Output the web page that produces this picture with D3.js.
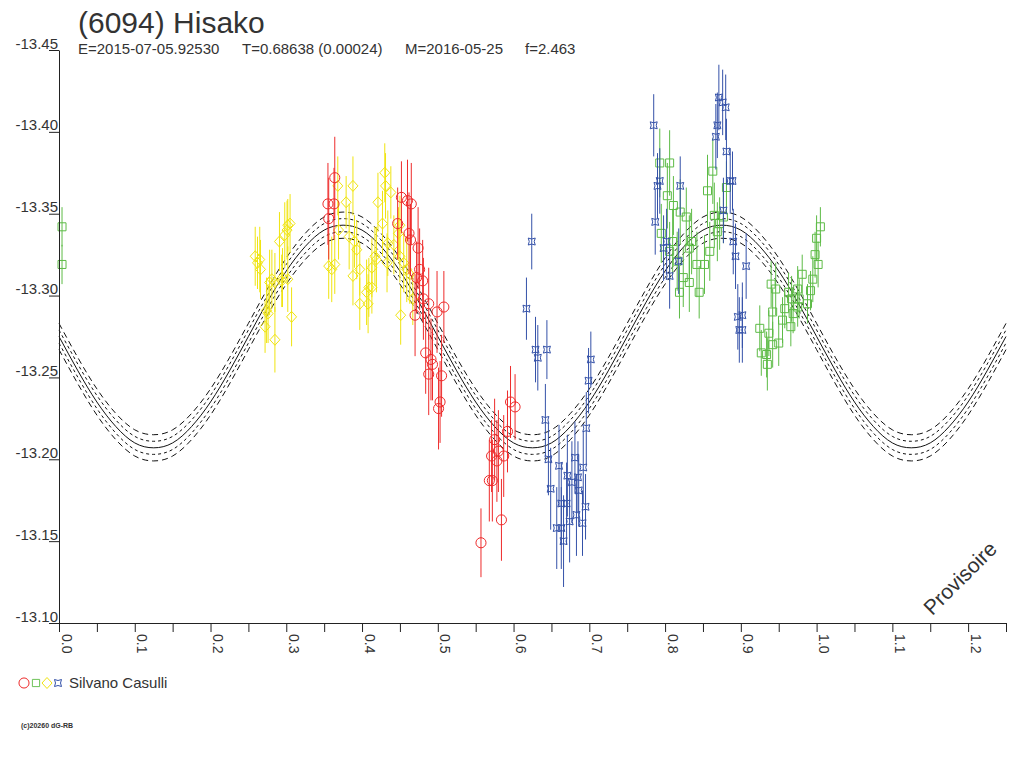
<!DOCTYPE html>
<html>
<head>
<meta charset="utf-8">
<script src="https://cdn.jsdelivr.net/npm/d3@7"></script>
<style>
  body { margin: 0; background: #fff; }
  text { font-family: "Liberation Sans", Arial, sans-serif; fill: #333; }
</style>
</head>
<body>
<div id="chart"></div>
<script>
// Lightcurve of (6094) Hisako, folded on the rotation period

const titleText = "(6094) Hisako";
const subtitleParts = ["E=2015-07-05.92530", "T=0.68638 (0.00024)", "M=2016-05-25", "f=2.463"];
const observer = "Silvano Casulli";

const phaseTicks = [0, 0.05, 0.1, 0.15, 0.2, 0.25, 0.3, 0.35, 0.4, 0.45, 0.5, 0.55, 0.6,
  0.65, 0.7, 0.75, 0.8, 0.85, 0.9, 0.95, 1.0, 1.05, 1.1, 1.15, 1.2, 1.25];
const magTicks = [-13.45, -13.40, -13.35, -13.30, -13.25, -13.20, -13.15, -13.10];

// model curve
const modelPhase = [0, 0.025, 0.05, 0.075, 0.1, 0.125, 0.15, 0.175, 0.2, 0.225,
  0.25, 0.275, 0.3, 0.325, 0.35, 0.375, 0.4, 0.425, 0.45, 0.475,
  0.5, 0.525, 0.55, 0.575, 0.6, 0.625, 0.65, 0.675, 0.7, 0.725,
  0.75, 0.775, 0.8, 0.825, 0.85, 0.875, 0.9, 0.925, 0.95, 0.975,
  1.0, 1.025, 1.05, 1.075, 1.1, 1.125, 1.15, 1.175, 1.2, 1.225, 1.25];
const modelMag = [-13.275, -13.254, -13.235, -13.220, -13.210, -13.207, -13.210, -13.220, -13.235, -13.254,
  -13.275, -13.296, -13.315, -13.330, -13.340, -13.343, -13.340, -13.330, -13.315, -13.296,
  -13.275, -13.254, -13.235, -13.220, -13.210, -13.207, -13.210, -13.220, -13.235, -13.254,
  -13.275, -13.296, -13.315, -13.330, -13.340, -13.343, -13.340, -13.330, -13.315, -13.296,
  -13.275, -13.254, -13.235, -13.220, -13.210, -13.207, -13.210, -13.220, -13.235, -13.254, -13.275];
const innerBand = [-0.004, 0.004];
const outerBand = [-0.008, 0.008];

// observations: [phase, mag, error]
const redObs = [
  [0.364, -13.372, 0.025], [0.355, -13.356, 0.025], [0.363, -13.356, 0.022], [0.356, -13.347, 0.025],
  [0.452, -13.360, 0.022], [0.460, -13.358, 0.025], [0.465, -13.356, 0.025], [0.447, -13.344, 0.022],
  [0.462, -13.338, 0.025], [0.464, -13.334, 0.022], [0.474, -13.329, 0.025], [0.476, -13.316, 0.025],
  [0.472, -13.311, 0.022], [0.480, -13.309, 0.025], [0.481, -13.298, 0.025], [0.488, -13.295, 0.022],
  [0.499, -13.290, 0.025], [0.508, -13.293, 0.022], [0.470, -13.288, 0.025], [0.484, -13.265, 0.025],
  [0.491, -13.261, 0.025], [0.493, -13.258, 0.022], [0.488, -13.252, 0.025], [0.505, -13.251, 0.025],
  [0.503, -13.235, 0.025], [0.501, -13.231, 0.025], [0.596, -13.235, 0.022], [0.602, -13.232, 0.020],
  [0.592, -13.217, 0.025], [0.575, -13.212, 0.025], [0.580, -13.205, 0.025], [0.571, -13.202, 0.022],
  [0.587, -13.202, 0.025], [0.578, -13.199, 0.025], [0.568, -13.187, 0.025], [0.572, -13.187, 0.025],
  [0.584, -13.163, 0.025], [0.557, -13.149, 0.021]
];
const greenObs = [
  [0.004, -13.342, 0.012], [0.004, -13.319, 0.012],
  [0.793, -13.381, 0.021], [0.806, -13.381, 0.020], [0.803, -13.361, 0.020], [0.811, -13.355, 0.018],
  [0.820, -13.351, 0.020], [0.828, -13.348, 0.018], [0.795, -13.338, 0.018], [0.863, -13.376, 0.020],
  [0.856, -13.364, 0.022], [0.810, -13.333, 0.020], [0.806, -13.327, 0.018], [0.835, -13.333, 0.020],
  [0.832, -13.329, 0.020], [0.859, -13.327, 0.018], [0.842, -13.319, 0.020], [0.852, -13.319, 0.018],
  [0.869, -13.339, 0.018], [0.872, -13.344, 0.016], [0.865, -13.349, 0.020], [0.881, -13.366, 0.016],
  [0.816, -13.321, 0.018], [0.824, -13.311, 0.018], [0.832, -13.308, 0.018], [0.819, -13.302, 0.016],
  [0.845, -13.302, 0.016], [0.877, -13.348, 0.016],
  [1.005, -13.342, 0.012], [1.000, -13.335, 0.014], [0.998, -13.325, 0.014], [1.002, -13.319, 0.014],
  [0.995, -13.310, 0.014], [0.981, -13.313, 0.012], [0.940, -13.307, 0.014], [0.946, -13.304, 0.016],
  [0.975, -13.304, 0.014], [0.992, -13.303, 0.012], [0.963, -13.302, 0.012], [0.967, -13.298, 0.014],
  [0.977, -13.298, 0.012], [0.988, -13.295, 0.012], [0.975, -13.293, 0.012], [0.942, -13.290, 0.014],
  [0.958, -13.292, 0.012], [0.969, -13.289, 0.012], [0.955, -13.285, 0.014], [0.925, -13.280, 0.014],
  [0.966, -13.281, 0.012], [0.937, -13.277, 0.014], [0.950, -13.271, 0.014], [0.942, -13.270, 0.014],
  [0.927, -13.265, 0.014], [0.934, -13.264, 0.014], [0.935, -13.258, 0.016]
];
const yellowObs = [
  [0.259, -13.324, 0.018], [0.265, -13.322, 0.020], [0.262, -13.320, 0.016], [0.266, -13.316, 0.018],
  [0.302, -13.343, 0.016], [0.301, -13.340, 0.018], [0.298, -13.337, 0.020], [0.291, -13.333, 0.018],
  [0.281, -13.310, 0.018], [0.278, -13.308, 0.020], [0.285, -13.308, 0.018], [0.294, -13.309, 0.016],
  [0.295, -13.311, 0.018], [0.302, -13.310, 0.020], [0.307, -13.287, 0.018], [0.274, -13.291, 0.020],
  [0.276, -13.289, 0.018], [0.272, -13.281, 0.016], [0.285, -13.273, 0.020], [0.388, -13.367, 0.018],
  [0.379, -13.357, 0.016], [0.368, -13.367, 0.018], [0.430, -13.375, 0.018], [0.431, -13.367, 0.020],
  [0.438, -13.363, 0.016], [0.421, -13.357, 0.018], [0.427, -13.344, 0.020], [0.450, -13.343, 0.018],
  [0.448, -13.338, 0.016], [0.369, -13.340, 0.018], [0.383, -13.336, 0.020], [0.393, -13.328, 0.018],
  [0.390, -13.333, 0.016], [0.356, -13.318, 0.020], [0.364, -13.319, 0.018], [0.360, -13.316, 0.020],
  [0.388, -13.312, 0.018], [0.397, -13.316, 0.016], [0.413, -13.317, 0.018], [0.419, -13.322, 0.020],
  [0.417, -13.324, 0.018], [0.409, -13.305, 0.018], [0.413, -13.305, 0.016], [0.406, -13.302, 0.020],
  [0.408, -13.295, 0.018], [0.397, -13.295, 0.016], [0.433, -13.320, 0.018], [0.434, -13.332, 0.020],
  [0.442, -13.331, 0.018], [0.450, -13.324, 0.016], [0.455, -13.320, 0.018], [0.459, -13.316, 0.020],
  [0.463, -13.313, 0.018], [0.451, -13.288, 0.018], [0.467, -13.298, 0.016], [0.305, -13.344, 0.018]
];
const blueObs = [
  [0.785, -13.404, 0.019], [0.871, -13.421, 0.020], [0.876, -13.418, 0.020], [0.880, -13.415, 0.020],
  [0.869, -13.404, 0.020], [0.867, -13.397, 0.020], [0.881, -13.388, 0.020], [0.793, -13.370, 0.020],
  [0.790, -13.367, 0.020], [0.820, -13.367, 0.018], [0.886, -13.370, 0.020], [0.889, -13.370, 0.018],
  [0.787, -13.345, 0.020], [0.877, -13.352, 0.020], [0.802, -13.333, 0.020], [0.798, -13.329, 0.020],
  [0.890, -13.333, 0.020], [0.893, -13.324, 0.020], [0.818, -13.321, 0.020], [0.907, -13.318, 0.020],
  [0.806, -13.312, 0.020], [0.896, -13.287, 0.020], [0.902, -13.288, 0.020], [0.898, -13.279, 0.020],
  [0.902, -13.279, 0.020],
  [0.624, -13.333, 0.017], [0.617, -13.292, 0.019], [0.629, -13.267, 0.020], [0.644, -13.267, 0.018],
  [0.632, -13.262, 0.020], [0.702, -13.261, 0.017], [0.699, -13.248, 0.020],
  [0.642, -13.224, 0.022], [0.696, -13.219, 0.022], [0.646, -13.200, 0.022], [0.660, -13.196, 0.025],
  [0.649, -13.182, 0.025], [0.692, -13.195, 0.022], [0.681, -13.201, 0.022], [0.671, -13.190, 0.025],
  [0.685, -13.189, 0.022], [0.677, -13.186, 0.025], [0.686, -13.181, 0.022], [0.663, -13.173, 0.025],
  [0.670, -13.173, 0.025], [0.695, -13.171, 0.020], [0.683, -13.166, 0.025], [0.674, -13.162, 0.025],
  [0.691, -13.161, 0.020], [0.657, -13.158, 0.025], [0.663, -13.158, 0.025], [0.666, -13.150, 0.028]
];

const colors = { red: "#ee2b2b", green: "#5dbb46", yellow: "#f0e410", blue: "#3451a8" };

const width = 1024, height = 768;
const svg = d3.select("#chart").append("svg")
  .attr("width", width).attr("height", height);

// scales
const x = d3.scaleLinear().domain([0, 1.25]).range([59, 1006]);
const y = d3.scaleLinear().domain([-13.10, -13.45]).range([623, 50]);

// symbol paths
const sym = {
  circle: () => d3.symbol(d3.symbolCircle, 80)(),
  square: () => "M-4,-4H4V4H-4Z",
  diamond: () => "M0,-5.5L5,0L0,5.5L-5,0Z",
  star: () => "M-3.5,-3.5Q0,-1.5 3.5,-3.5Q1.5,0 3.5,3.5Q0,1.5 -3.5,3.5Q-1.5,0 -3.5,-3.5Z"
};

// titles
svg.append("text").attr("x", 78).attr("y", 33)
  .attr("font-size", 30).text(titleText);
const subX = [78, 242, 405, 525];
svg.selectAll(".sub").data(subtitleParts).join("text")
  .attr("class", "sub")
  .attr("x", (d, i) => subX[i]).attr("y", 54)
  .attr("font-size", 15).text(d => d);

// model curve and bands
const modelPts = modelPhase.map((p, i) => [p, modelMag[i]]);
const line = off => d3.line()
  .x(d => x(d[0])).y(d => y(d[1] + off))
  .curve(d3.curveNatural)(modelPts);

const curves = svg.append("g").attr("fill", "none").attr("stroke", "#111").attr("stroke-width", 1);
outerBand.forEach(off => curves.append("path").attr("d", line(off)).attr("stroke-dasharray", "6,4"));
innerBand.forEach(off => curves.append("path").attr("d", line(off)).attr("stroke-dasharray", "3,3"));
curves.append("path").attr("d", line(0));

// observations with error bars
function drawSeries(obs, color, shape) {
  const g = svg.append("g").attr("stroke", color).attr("fill", "none").attr("stroke-width", 1);
  g.selectAll("line").data(obs).join("line")
    .attr("x1", d => x(d[0])).attr("x2", d => x(d[0]))
    .attr("y1", d => y(d[1] - d[2])).attr("y2", d => y(d[1] + d[2]));
  g.selectAll("path").data(obs).join("path")
    .attr("d", sym[shape])
    .attr("transform", d => `translate(${x(d[0])},${y(d[1])})`);
}
drawSeries(greenObs, colors.green, "square");
drawSeries(yellowObs, colors.yellow, "diamond");
drawSeries(blueObs, colors.blue, "star");
drawSeries(redObs, colors.red, "circle");

// axes
const xAxis = d3.axisBottom(x)
  .tickValues(phaseTicks)
  .tickSize(9).tickSizeOuter(0)
  .tickFormat(d => Math.round(d * 100) % 10 === 0 ? d.toFixed(1) : "");
const gx = svg.append("g").attr("transform", `translate(0,${y(-13.10)})`).call(xAxis);
gx.selectAll("text")
  .attr("transform", "rotate(90)")
  .attr("x", 11).attr("y", -2).attr("dy", 0)
  .attr("text-anchor", "start")
  .attr("font-size", 14);

const yAxis = d3.axisLeft(y)
  .tickValues(magTicks)
  .tickSize(10).tickSizeOuter(0).tickPadding(-9)
  .tickFormat(d => d.toFixed(2));
const gy = svg.append("g").attr("transform", `translate(${x(0)},0)`).call(yAxis);
gy.selectAll("text").attr("dy", -2).attr("font-size", 15);

[gx, gy].forEach(g => {
  g.attr("font-family", null).attr("font-size", null);
  g.selectAll("line, path").attr("stroke", "#222");
});

// legend
const legY = 683;
const leg = svg.append("g").attr("fill", "none").attr("stroke-width", 1);
[["circle", colors.red, 24], ["square", colors.green, 36], ["diamond", colors.yellow, 47], ["star", colors.blue, 58]]
  .forEach(([shape, c, lx]) => {
    leg.append("path").attr("d", sym[shape]()).attr("stroke", c)
      .attr("transform", `translate(${lx},${legY})${shape === "square" ? " scale(0.9)" : ""}`);
  });
svg.append("text").attr("x", 69).attr("y", 688).attr("font-size", 15).text(observer);

// watermark and credit
svg.append("text")
  .attr("transform", "translate(960,578) rotate(-45)")
  .attr("text-anchor", "middle").attr("dy", "0.35em")
  .attr("font-size", 21).attr("fill", "#222")
  .text("Provisoire");
svg.append("text").attr("x", 21).attr("y", 728)
  .attr("font-size", 7).attr("font-weight", "bold").text("(c)20260 dG-RB");
</script>
</body>
</html>
